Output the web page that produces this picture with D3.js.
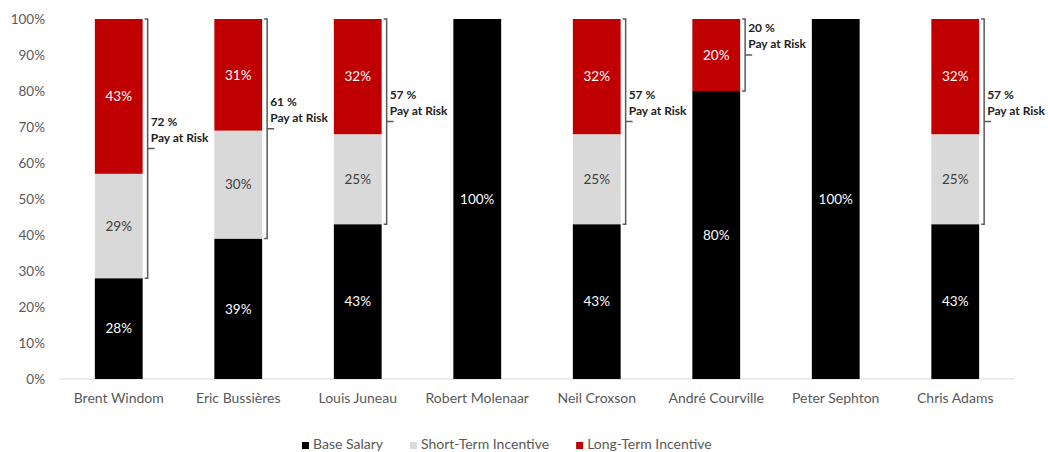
<!DOCTYPE html>
<head>
<meta charset="utf-8">
<script src="https://cdn.jsdelivr.net/npm/d3@7"></script>
<style>
body { margin: 0; background: #fff; }
svg text { font-family: Lato, "Open Sans", sans-serif; }
</style>
</head>
<body>
<svg id="chart" width="1048" height="452"></svg>
<script>
var names = ["Brent Windom", "Eric Bussières", "Louis Juneau", "Robert Molenaar", "Neil Croxson", "André Courville", "Peter Sephton", "Chris Adams"];
var baseSalary = [28, 39, 43, 100, 43, 80, 100, 43];
var shortTerm  = [29, 30, 25, 0, 25, 0, 0, 25];
var longTerm   = [43, 31, 32, 0, 32, 20, 0, 32];
var yTicks = [0, 10, 20, 30, 40, 50, 60, 70, 80, 90, 100];
var keys = ["Base Salary", "Short-Term Incentive", "Long-Term Incentive"];
var colors = ["#000000", "#d9d9d9", "#c00000"];
var labelColors = ["#ffffff", "#404040", "#ffffff"];

var rows = names.map(function(n, i) {
    return {name: n, "Base Salary": baseSalary[i], "Short-Term Incentive": shortTerm[i], "Long-Term Incentive": longTerm[i]};
});

var svg = d3.select("#chart");
var x = d3.scaleBand().domain(names).range([59, 1015]).paddingInner(0.6).paddingOuter(0.3);
var y = d3.scaleLinear().domain([0, 100]).range([379, 19]);
var z = d3.scaleOrdinal().domain(keys).range(colors);

// y axis labels (no line)
svg.append("g").selectAll("text").data(yTicks).enter().append("text")
    .attr("x", 45).attr("y", d => y(d)).attr("dy", "0.35em")
    .attr("text-anchor", "end").attr("font-size", 13.5).attr("fill", "#595959")
    .text(d => d + "%");

// x axis baseline
svg.append("line").attr("x1", 59).attr("x2", 1015).attr("y1", y(0)).attr("y2", y(0))
    .attr("stroke", "#d9d9d9").attr("stroke-width", 1);

svg.append("g").selectAll("text").data(names).enter().append("text")
    .attr("x", d => x(d) + x.bandwidth() / 2).attr("y", 403)
    .attr("text-anchor", "middle").attr("font-size", 14).attr("fill", "#595959")
    .text(d => d);

var series = d3.stack().keys(keys)(rows);

var layer = svg.selectAll("g.layer").data(series).enter().append("g")
    .attr("class", "layer").attr("fill", d => z(d.key));

layer.selectAll("rect").data(d => d).enter().append("rect")
    .attr("x", d => x(d.data.name))
    .attr("y", d => y(d[1]))
    .attr("width", x.bandwidth())
    .attr("height", d => y(d[0]) - y(d[1]));

series.forEach(function(s, k) {
    svg.append("g").selectAll("text").data(s.filter(d => d[1] - d[0] > 0)).enter().append("text")
        .attr("x", d => x(d.data.name) + x.bandwidth() / 2)
        .attr("y", d => y((d[0] + d[1]) / 2)).attr("dy", "0.35em")
        .attr("text-anchor", "middle").attr("font-size", 13.5).attr("fill", labelColors[k])
        .text(d => (d[1] - d[0]) + "%");
});

// pay at risk brackets
var risk = rows.map(function(d) {
    return {name: d.name, base: d["Base Salary"], value: d["Short-Term Incentive"] + d["Long-Term Incentive"]};
}).filter(d => d.value > 0);

var br = svg.append("g").selectAll("g").data(risk).enter().append("g");
br.append("path")
    .attr("fill", "none").attr("stroke", "#595959").attr("stroke-width", 1.5)
    .attr("d", function(d) {
        var bx = x(d.name) + x.bandwidth() + 5;
        var top = y(100), bot = y(d.base), mid = (top + bot) / 2;
        return "M" + (bx - 3) + "," + top + "H" + bx + "V" + bot + "H" + (bx - 3)
            + "M" + bx + "," + mid + "H" + (bx + 7);
    });
br.append("text")
    .attr("x", d => x(d.name) + x.bandwidth() + 8)
    .attr("y", d => (y(100) + y(d.base)) / 2 - 23)
    .attr("font-size", 12).attr("font-weight", "bold").attr("fill", "#222")
    .text(d => d.value + " %");
br.append("text")
    .attr("x", d => x(d.name) + x.bandwidth() + 8)
    .attr("y", d => (y(100) + y(d.base)) / 2 - 7)
    .attr("font-size", 12).attr("font-weight", "bold").attr("fill", "#222")
    .text("Pay at Risk");

// legend
var legend = svg.append("g");
var lx = 302;
keys.forEach(function(k, i) {
    legend.append("rect").attr("x", lx).attr("y", 442).attr("width", 7).attr("height", 7).attr("fill", colors[i]);
    var t = legend.append("text").attr("x", lx + 11).attr("y", 449)
        .attr("font-size", 14).attr("fill", "#595959").text(k);
    lx += 11 + t.node().getComputedTextLength() + 27;
});
</script>
</body>
</html>
